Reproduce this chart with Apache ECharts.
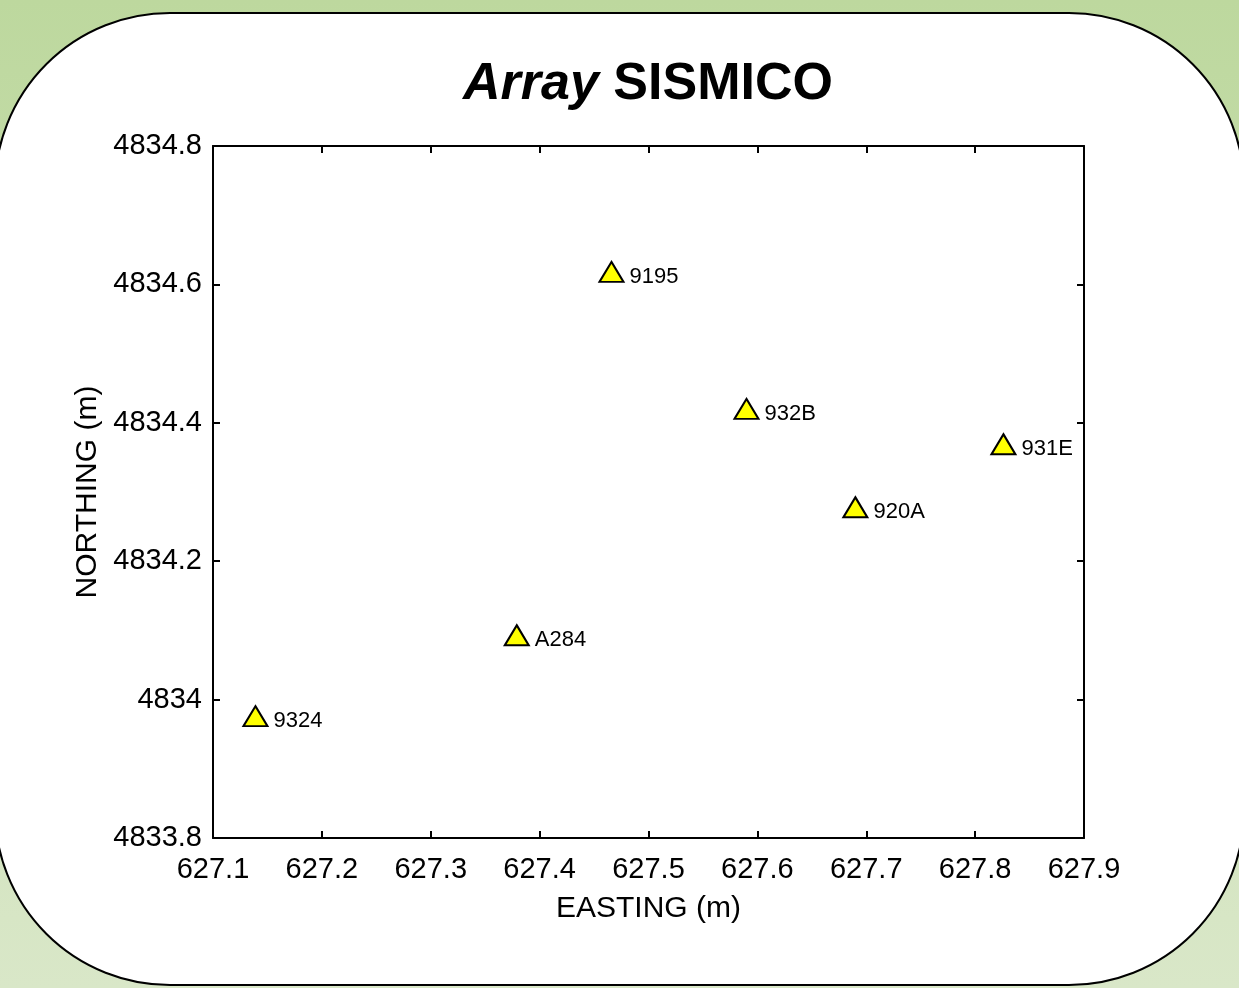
<!DOCTYPE html>
<html>
<head>
<meta charset="utf-8">
<title>Array SISMICO</title>
<script src="https://cdn.jsdelivr.net/npm/echarts@6/dist/echarts.min.js"></script>
<style>
  html, body { margin: 0; padding: 0; }
  #chart { width: 1239px; height: 988px; }
</style>
</head>
<body>
<div id="chart"></div>
<script>
// Station codes and their coordinates
const stations = ['9324', 'A284', '9195', '932B', '920A', '931E'];
const easting  = [627.139, 627.379, 627.466, 627.590, 627.690, 627.826];
const northing = [4833.976, 4834.093, 4834.618, 4834.420, 4834.278, 4834.369];

// Axis ranges and tick steps
const xRange = [627.1, 627.9];
const xStep = 0.1;
const yRange = [4833.8, 4834.8];
const yStep = 0.2;

const FONT = "'Liberation Sans', Arial, Helvetica, sans-serif";

const fmt = v => String(Number(Number(v).toFixed(1)));

const points = stations.map((s, i) => [easting[i], northing[i], s]);

const chart = echarts.init(document.getElementById('chart'));

const baseAxis = {
  type: 'value',
  splitLine: { show: false },
  axisLine: { show: true, onZero: false, lineStyle: { color: '#000', width: 2 } },
  axisTick: { show: true, inside: true, length: 7, lineStyle: { color: '#000', width: 2 } }
};

chart.setOption({
  backgroundColor: new echarts.graphic.LinearGradient(0, 0, 0, 1, [
    { offset: 0, color: '#bdd89e' },
    { offset: 1, color: '#d9e7c8' }
  ]),
  graphic: [{
    type: 'rect',
    z: -100,
    silent: true,
    shape: { x: -5, y: 13, width: 1249, height: 972, r: 175 },
    style: { fill: '#ffffff', stroke: '#000000', lineWidth: 2 }
  }],
  title: {
    text: '{i|Array }{b|SISMICO}',
    left: 643,
    textAlign: 'center',
    top: 54,
    textStyle: {
      rich: {
        i: { fontFamily: FONT, fontSize: 52, fontWeight: 'bold', fontStyle: 'italic', color: '#000' },
        b: { fontFamily: FONT, fontSize: 52, fontWeight: 'bold', color: '#000' }
      }
    }
  },
  grid: { left: 213, right: 155, top: 146, bottom: 150, containLabel: false },
  xAxis: [
    Object.assign({}, baseAxis, {
      position: 'bottom',
      min: xRange[0], max: xRange[1], interval: xStep,
      name: 'EASTING (m)',
      nameLocation: 'middle',
      nameGap: 56,
      nameTextStyle: { fontFamily: FONT, fontSize: 30, color: '#000' },
      axisLabel: { fontFamily: FONT, fontSize: 29, color: '#000', margin: 17, formatter: fmt }
    }),
    Object.assign({}, baseAxis, {
      position: 'top',
      min: xRange[0], max: xRange[1], interval: xStep,
      axisLabel: { show: false }
    })
  ],
  yAxis: [
    Object.assign({}, baseAxis, {
      position: 'left',
      min: yRange[0], max: yRange[1], interval: yStep,
      name: 'NORTHING (m)',
      nameLocation: 'middle',
      nameGap: 108,
      nameTextStyle: { fontFamily: FONT, fontSize: 30, color: '#000' },
      axisLabel: { fontFamily: FONT, fontSize: 29, color: '#000', margin: 11, formatter: fmt, padding: [6, 0, 0, 0] }
    }),
    Object.assign({}, baseAxis, {
      position: 'right',
      min: yRange[0], max: yRange[1], interval: yStep,
      axisLabel: { show: false }
    })
  ],
  series: [{
    type: 'scatter',
    data: points,
    symbol: 'triangle',
    symbolSize: [24, 20],
    itemStyle: { color: '#ffff00', borderColor: '#000', borderWidth: 2, opacity: 1 },
    label: {
      show: true,
      position: 'right',
      distance: 5,
      offset: [0, 5],
      formatter: p => p.data[2],
      fontFamily: FONT,
      fontSize: 22,
      color: '#000'
    },
    emphasis: { disabled: true }
  }],
  animation: false
});
</script>
</body>
</html>
